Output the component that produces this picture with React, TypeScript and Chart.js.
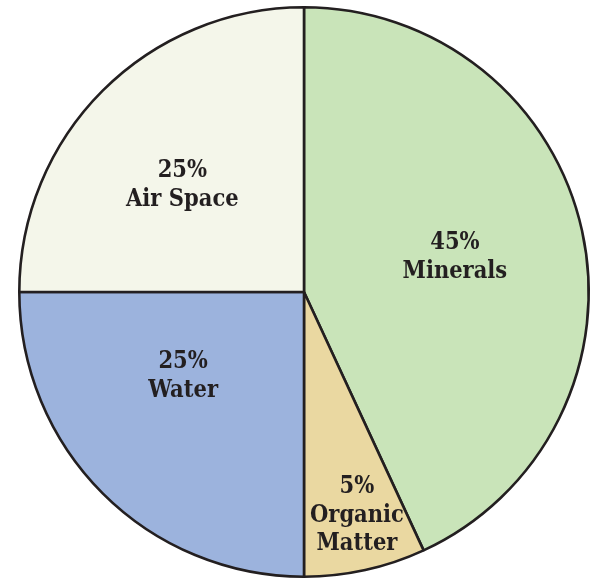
import React, { useEffect, useRef } from "react";
import { Chart, registerables } from "chart.js";

Chart.register(...registerables);

const categories = ["Minerals", "Organic Matter", "Water", "Air Space"];
const labelLines = [["Minerals"], ["Organic", "Matter"], ["Water"], ["Air Space"]];
// slice sizes as drawn in the picture
const sliceValues = [43.1, 6.9, 25, 25];
// percentages as printed on the slices
const percentLabels = ["45%", "5%", "25%", "25%"];
const colors = ["#c9e4b9", "#ead8a1", "#9cb3dd", "#f4f6ea"];

// label placement: radial fraction of radius and angle shift (degrees) from the slice mid-angle
const labelRadius = [0.544, 0.807, 0.517, 0.569];
const labelAngleShift = [-0.6, -0.9, 10.2, -3.7];

const sliceLabels = {
  id: "sliceLabels",
  afterDatasetsDraw(chart: any) {
    const ctx = chart.ctx;
    const meta = chart.getDatasetMeta(0);
    ctx.save();
    ctx.fillStyle = "#231f20";
    ctx.font = "bold 24.5px 'DejaVu Serif'";
    ctx.textAlign = "center";
    ctx.textBaseline = "middle";
    const sx = 0.86;
    meta.data.forEach((arc: any, i: number) => {
      const p = arc.getProps(["x", "y", "startAngle", "endAngle", "outerRadius"], true);
      const mid = (p.startAngle + p.endAngle) / 2 + (labelAngleShift[i] * Math.PI) / 180;
      const r = p.outerRadius * labelRadius[i];
      const cx = p.x + Math.cos(mid) * r;
      const cy = p.y + Math.sin(mid) * r;
      const lines = [percentLabels[i], ...labelLines[i]];
      const lh = 28.5;
      const top = cy - ((lines.length - 1) * lh) / 2;
      lines.forEach((t, k) => {
        ctx.save();
        ctx.translate(cx, top + k * lh);
        ctx.scale(sx, 1);
        ctx.fillText(t, 0, 0);
        ctx.restore();
      });
    });
    ctx.restore();
  },
};

export default function App() {
  const ref = useRef<HTMLCanvasElement>(null);
  useEffect(() => {
    document.body.style.margin = "0";
    document.body.style.background = "#ffffff";
    const chart = new Chart(ref.current!, {
      type: "pie",
      data: {
        labels: categories,
        datasets: [
          {
            data: sliceValues,
            backgroundColor: colors,
            borderColor: "#231f20",
            borderWidth: 2.6,
          },
        ],
      },
      options: {
        responsive: false,
        animation: false,
        layout: { padding: { left: 18, right: 10, top: 6, bottom: 2 } },
        plugins: {
          legend: { display: false },
          tooltip: { enabled: false },
        },
      },
      plugins: [sliceLabels],
    });
    return () => chart.destroy();
  }, []);
  return (
    <div style={{ position: "absolute", left: 0, top: 0, width: 590, height: 580, overflow: "hidden", background: "#fff" }}>
      <canvas ref={ref} width={600} height={580} style={{ width: 600, height: 580 }} />
    </div>
  );
}
